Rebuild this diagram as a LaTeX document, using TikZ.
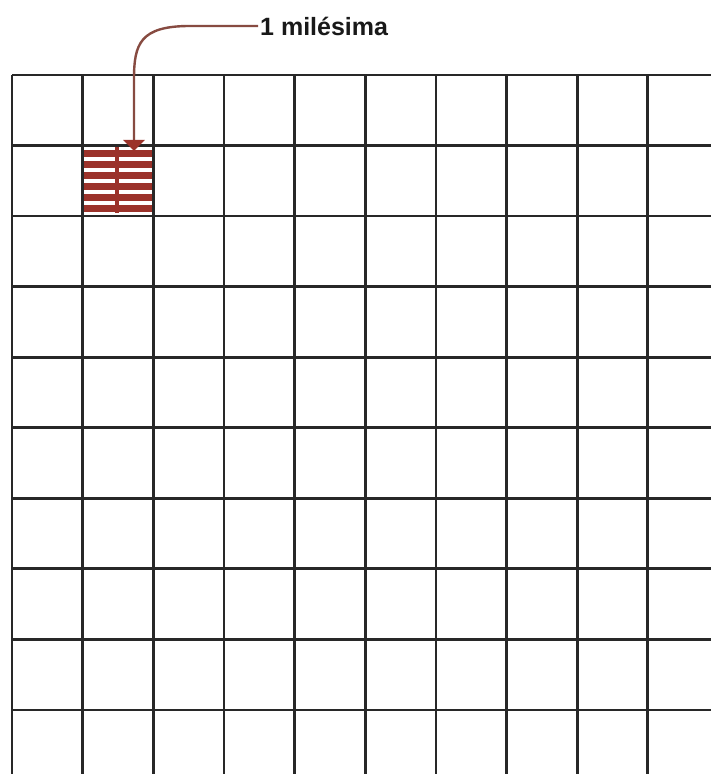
\documentclass[tikz,border=0pt]{standalone}
\usepackage{fontspec}
\setmainfont{Liberation Sans}
\usetikzlibrary{positioning,arrows.meta}
\definecolor{gridgray}{RGB}{40,40,40}
\definecolor{markred}{RGB}{155,50,42}
\definecolor{leadbrown}{RGB}{135,75,65}
\tikzset{
  gridline/.style = {line width=2.8pt, gridgray},
  stripe/.style   = {line width=6.5pt, markred},
  lead/.style     = {-{Triangle[length=11pt,width=21pt,color=markred]}, line width=2.4pt, leadbrown},
  tag/.style      = {font=\bfseries\fontsize{25}{28}\selectfont, text=black!90, inner sep=2pt, anchor=west},
}

\begin{document}
\begin{tikzpicture}[x=1pt, y=1pt, >=Stealth]
        \useasboundingbox (0,0) rectangle (711,774);
        \fill[white] (0,0) rectangle (711,774);

        % the thousandth in the second cell
        \foreach \yy in {620.5,609.5,598.5,587.5,576.5,565.5}
            \draw[stripe] (84,\yy) -- (152,\yy);
        \draw[markred, line width=4.5pt] (117,627) -- (117,561);

        % grid
        \begin{scope}
        \clip (0,0) rectangle (711,774);
        \foreach \k in {0,...,9}
            \draw[gridline] (12+70.65*\k,699) -- (12+70.65*\k,-2);
        \foreach \k in {0,...,9}
            \draw[gridline] (12,699-70.55*\k) -- (713,699-70.55*\k);
        \end{scope}

        % label and leader
        \node[tag] (lbl) at (258,748) {1 milésima};
        \coordinate (tip) at (134,623);
        \draw[lead] (lbl.west) -- (190,748)
            .. controls (140,748) and (134,730) .. (134,695) -- (tip);
    \end{tikzpicture}
\end{document}
